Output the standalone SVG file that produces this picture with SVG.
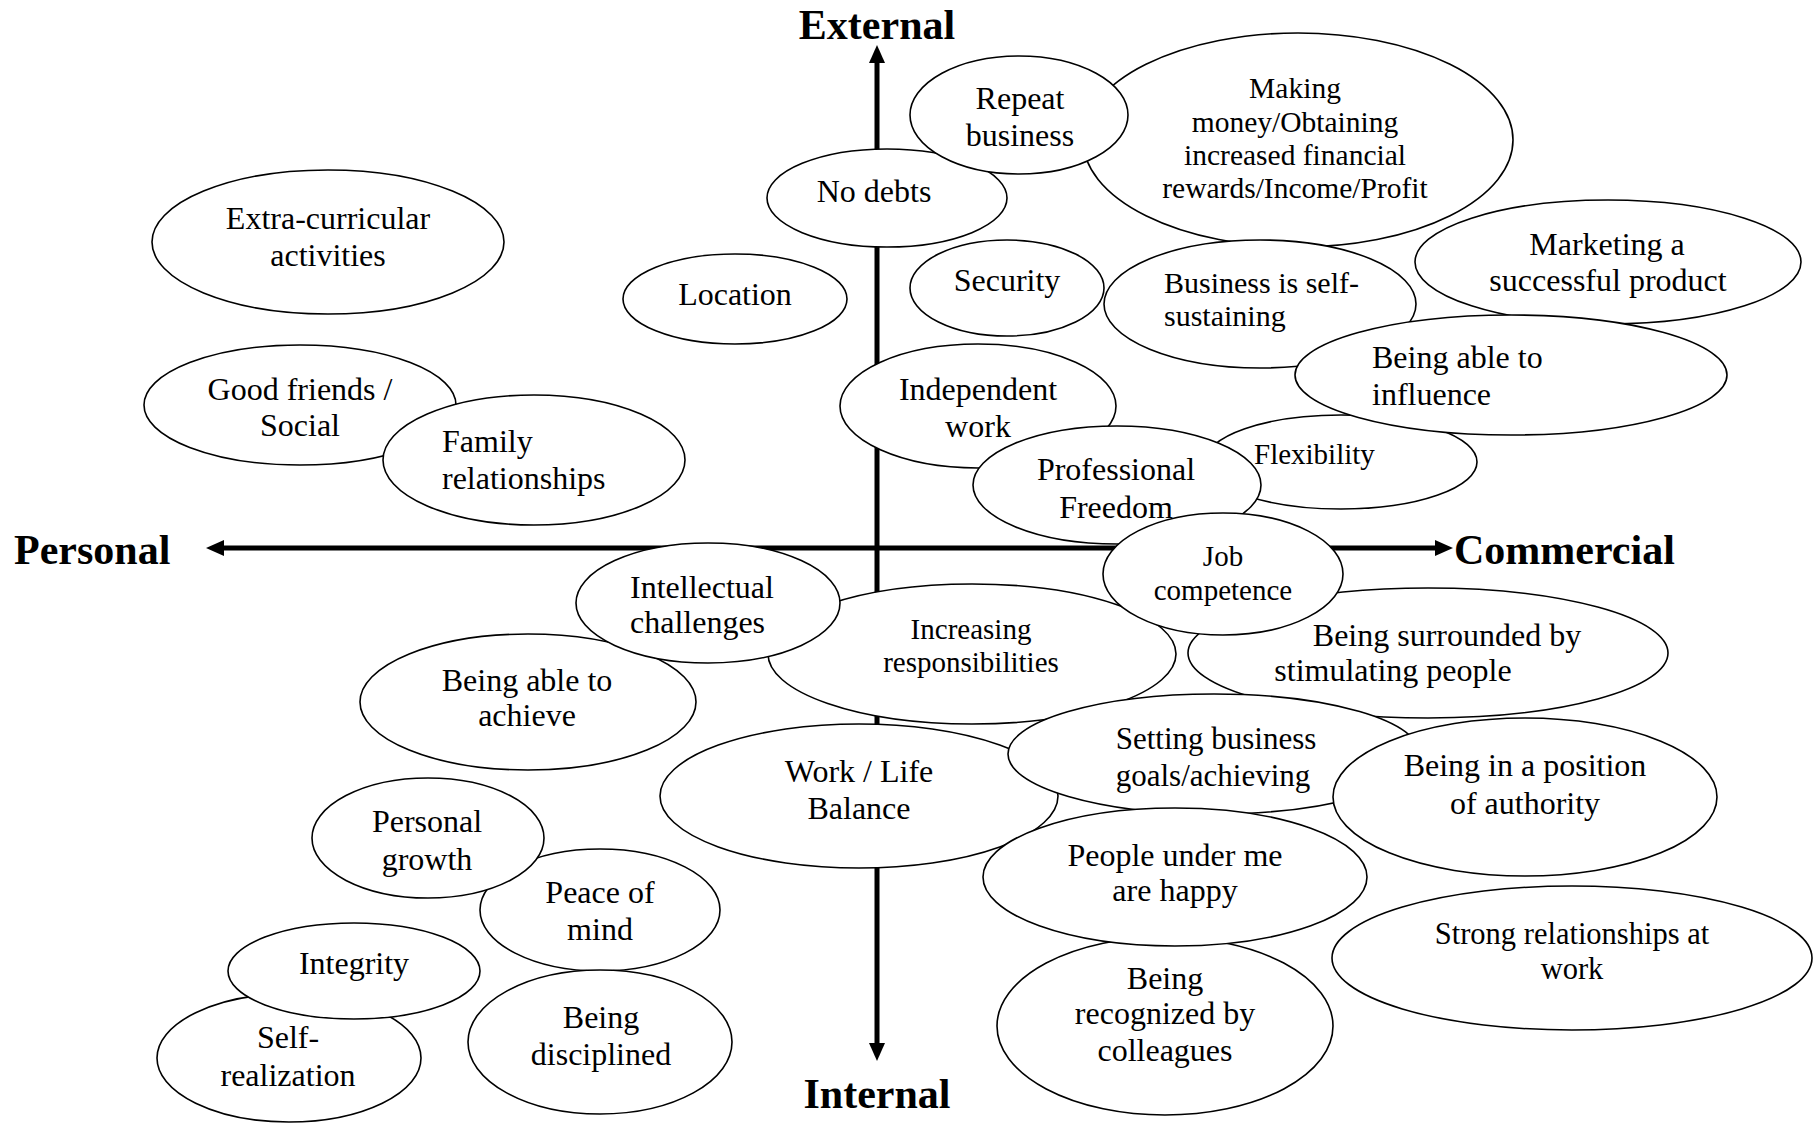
<svg xmlns="http://www.w3.org/2000/svg" width="1817" height="1124" viewBox="0 0 1817 1124">
<style>
  .n ellipse { fill: #ffffff; stroke: #000000; stroke-width: 1.6; }
  .n text { font-family: "Liberation Serif", "Times New Roman", serif; font-size: 32px; fill: #000000; text-anchor: middle; }
  .n text.l { text-anchor: start; }
  .n text.s { font-size: 29px; }
  .ax { stroke: #000000; stroke-width: 5; fill: none; }
  .lab { font-family: "Liberation Serif", "Times New Roman", serif; font-size: 42px; font-weight: bold; fill: #000000; }
</style>
<defs>
  <marker id="ah" markerWidth="18" markerHeight="16" refX="0" refY="8" orient="auto-start-reverse" markerUnits="userSpaceOnUse">
    <path d="M0,0 L18,8 L0,16 z" fill="#000000"/>
  </marker>
</defs>
<rect width="1817" height="1124" fill="#ffffff"/>

<g id="connectors">
  <line class="ax" x1="224" y1="548" x2="1435" y2="548" marker-start="url(#ah)" marker-end="url(#ah)"/>
  <line class="ax" x1="877" y1="63" x2="877" y2="1043" marker-start="url(#ah)" marker-end="url(#ah)"/>
</g>

<g id="axis-labels">
  <text class="lab" x="877" y="39" text-anchor="middle">External</text>
  <text class="lab" x="877" y="1108" text-anchor="middle">Internal</text>
  <text class="lab" x="14" y="564">Personal</text>
  <text class="lab" x="1454" y="564">Commercial</text>
</g>

<g id="extra-curricular" class="n">
  <ellipse cx="328" cy="242" rx="176" ry="72"/>
  <text x="328" y="229">Extra-curricular</text>
  <text x="328" y="266">activities</text>
</g>
<g id="location" class="n">
  <ellipse cx="735" cy="299" rx="112" ry="45"/>
  <text x="735" y="305">Location</text>
</g>
<g id="good-friends" class="n">
  <ellipse cx="300" cy="405" rx="156" ry="60"/>
  <text x="300" y="400">Good friends /</text>
  <text x="300" y="436">Social</text>
</g>
<g id="family" class="n">
  <ellipse cx="534" cy="460" rx="151" ry="65"/>
  <text class="l" x="442" y="452">Family</text>
  <text class="l" x="442" y="489">relationships</text>
</g>
<g id="no-debts" class="n">
  <ellipse cx="887" cy="198" rx="120" ry="49"/>
  <text x="874" y="202">No debts</text>
</g>
<g id="making-money" class="n">
  <ellipse cx="1298" cy="140" rx="215" ry="107"/>
  <text x="1295" y="98" style="font-size:29.5px">Making</text>
  <text x="1295" y="132" style="font-size:29.5px">money/Obtaining</text>
  <text x="1295" y="165" style="font-size:29.5px">increased financial</text>
  <text x="1295" y="198" style="font-size:29.5px">rewards/Income/Profit</text>
</g>
<g id="repeat-business" class="n">
  <ellipse cx="1019" cy="115" rx="109" ry="59"/>
  <text x="1020" y="109">Repeat</text>
  <text x="1020" y="146">business</text>
</g>
<g id="security" class="n">
  <ellipse cx="1007" cy="288" rx="97" ry="48"/>
  <text x="1007" y="291">Security</text>
</g>
<g id="self-sustaining" class="n">
  <ellipse cx="1260" cy="304" rx="156" ry="64"/>
  <text class="l" x="1164" y="293" style="font-size:30px">Business is self-</text>
  <text class="l" x="1164" y="326" style="font-size:30px">sustaining</text>
</g>
<g id="marketing" class="n">
  <ellipse cx="1608" cy="262" rx="193" ry="62"/>
  <text x="1607" y="255">Marketing a</text>
  <text x="1608" y="291">successful product</text>
</g>
<g id="flexibility" class="n">
  <ellipse cx="1341" cy="462" rx="136" ry="47"/>
  <text class="l s" x="1254" y="464">Flexibility</text>
</g>
<g id="influence" class="n">
  <ellipse cx="1511" cy="375" rx="216" ry="60"/>
  <text class="l" x="1372" y="368">Being able to</text>
  <text class="l" x="1372" y="405">influence</text>
</g>
<g id="independent-work" class="n">
  <ellipse cx="978" cy="406" rx="138" ry="62"/>
  <text x="978" y="400">Independent</text>
  <text x="978" y="437">work</text>
</g>
<g id="professional-freedom" class="n">
  <ellipse cx="1117" cy="485" rx="144" ry="59"/>
  <text x="1116" y="480">Professional</text>
  <text x="1116" y="518">Freedom</text>
</g>
<g id="increasing-responsibilities" class="n">
  <ellipse cx="972" cy="654" rx="204" ry="70"/>
  <text class="s" x="971" y="639">Increasing</text>
  <text class="s" x="971" y="672">responsibilities</text>
</g>
<g id="surrounded" class="n">
  <ellipse cx="1428" cy="653" rx="240" ry="65"/>
  <text x="1447" y="646">Being surrounded by</text>
  <text x="1393" y="681">stimulating people</text>
</g>
<g id="job-competence" class="n">
  <ellipse cx="1223" cy="574" rx="120" ry="61"/>
  <text class="s" x="1223" y="566">Job</text>
  <text class="s" x="1223" y="600">competence</text>
</g>
<g id="achieve" class="n">
  <ellipse cx="528" cy="702" rx="168" ry="68"/>
  <text x="527" y="691">Being able to</text>
  <text x="527" y="726">achieve</text>
</g>
<g id="intellectual" class="n">
  <ellipse cx="708" cy="603" rx="132" ry="60"/>
  <text class="l" x="630" y="598">Intellectual</text>
  <text class="l" x="630" y="633">challenges</text>
</g>
<g id="work-life" class="n">
  <ellipse cx="859" cy="796" rx="199" ry="72"/>
  <text x="859" y="782">Work / Life</text>
  <text x="859" y="819">Balance</text>
</g>
<g id="setting-goals" class="n">
  <ellipse cx="1214" cy="754" rx="206" ry="60"/>
  <text x="1216" y="749" style="font-size:31px">Setting business</text>
  <text x="1213" y="786" style="font-size:31px">goals/achieving</text>
</g>
<g id="authority" class="n">
  <ellipse cx="1525" cy="797" rx="192" ry="79"/>
  <text x="1525" y="776">Being in a position</text>
  <text x="1525" y="814">of authority</text>
</g>
<g id="recognized" class="n">
  <ellipse cx="1165" cy="1026" rx="168" ry="89"/>
  <text x="1165" y="989">Being</text>
  <text x="1165" y="1024">recognized by</text>
  <text x="1165" y="1061">colleagues</text>
</g>
<g id="people-happy" class="n">
  <ellipse cx="1175" cy="877" rx="192" ry="69"/>
  <text x="1175" y="866">People under me</text>
  <text x="1175" y="901">are happy</text>
</g>
<g id="strong-relationships" class="n">
  <ellipse cx="1572" cy="958" rx="240" ry="72"/>
  <text x="1572" y="944" style="font-size:30.5px">Strong relationships at</text>
  <text x="1572" y="979" style="font-size:30.5px">work</text>
</g>
<g id="self-realization" class="n">
  <ellipse cx="289" cy="1058" rx="132" ry="64"/>
  <text x="288" y="1048">Self-</text>
  <text x="288" y="1086">realization</text>
</g>
<g id="integrity" class="n">
  <ellipse cx="354" cy="971" rx="126" ry="48"/>
  <text x="354" y="974">Integrity</text>
</g>
<g id="peace-of-mind" class="n">
  <ellipse cx="600" cy="910" rx="120" ry="61"/>
  <text x="600" y="903">Peace of</text>
  <text x="600" y="940">mind</text>
</g>
<g id="personal-growth" class="n">
  <ellipse cx="428" cy="838" rx="116" ry="60"/>
  <text x="427" y="832">Personal</text>
  <text x="427" y="870">growth</text>
</g>
<g id="disciplined" class="n">
  <ellipse cx="600" cy="1042" rx="132" ry="72"/>
  <text x="601" y="1028">Being</text>
  <text x="601" y="1065">disciplined</text>
</g>
</svg>
